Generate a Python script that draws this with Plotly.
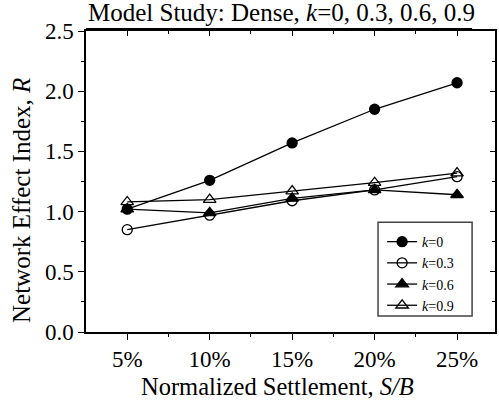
import plotly.graph_objects as go

# Normalized settlement S/B (%) and tick labels
settlement = [5, 10, 15, 20, 25]
settlement_labels = ["5%", "10%", "15%", "20%", "25%"]

# Network effect index R for each k
r_k0 = [1.02, 1.26, 1.57, 1.85, 2.07]
r_k03 = [0.85, 0.97, 1.09, 1.18, 1.29]
r_k06 = [1.02, 0.99, 1.11, 1.18, 1.14]
r_k09 = [1.08, 1.10, 1.17, 1.24, 1.32]

series_names = ["<i>k</i>=0", "<i>k</i>=0.3", "<i>k</i>=0.6", "<i>k</i>=0.9"]
series_values = [r_k0, r_k03, r_k06, r_k09]
symbols = ["circle", "circle-open", "triangle-up", "triangle-up-open"]
sizes = [10, 10, 11, 11]

FONT = "Liberation Serif"
XR = [2.5, 27.3]
YR = [0, 2.5]

fig = go.Figure()
for name, vals, sym, sz in zip(series_names, series_values, symbols, sizes):
    fig.add_trace(go.Scatter(
        x=settlement, y=vals, name=name, mode="lines+markers",
        line=dict(color="black", width=1.3),
        marker=dict(symbol=sym, size=sz, color="black",
                    line=dict(color="black", width=1.3)),
    ))

# companion axes on top/right carrying inward ticks only
fig.add_trace(go.Scatter(x=[None], y=[None], xaxis="x2", yaxis="y2",
                         showlegend=False, hoverinfo="skip"))

axis_common = dict(showgrid=False, zeroline=False, showline=True,
                   linecolor="black", linewidth=1.5,
                   tickcolor="black", tickwidth=1.3)

fig.update_layout(
    width=499, height=400,
    margin=dict(l=86, r=4, t=31, b=68),
    paper_bgcolor="white", plot_bgcolor="white",
    font=dict(family=FONT, color="black", size=23),
    showlegend=True,
    xaxis=dict(
        range=XR, tickmode="array", tickvals=settlement, ticktext=settlement_labels,
        ticks="outside", ticklen=6,
        minor=dict(tickmode="array", tickvals=[7.5, 12.5, 17.5, 22.5],
                   ticks="outside", ticklen=3, tickcolor="black", tickwidth=1.3),
        tickfont=dict(size=23, family=FONT),
        **axis_common,
    ),
    yaxis=dict(
        range=YR, tickmode="linear", tick0=0, dtick=0.5, tickformat=".1f",
        ticks="outside", ticklen=6,
        minor=dict(dtick=0.25, ticks="outside", ticklen=3,
                   tickcolor="black", tickwidth=1.3),
        tickfont=dict(size=23, family=FONT),
        **axis_common,
    ),
    xaxis2=dict(
        overlaying="x", side="top", anchor="y2", range=XR,
        tickmode="array", tickvals=settlement, showticklabels=False,
        ticks="inside", ticklen=5,
        minor=dict(tickmode="array", tickvals=[7.5, 12.5, 17.5, 22.5],
                   ticks="inside", ticklen=3, tickcolor="black", tickwidth=1.3),
        **axis_common,
    ),
    yaxis2=dict(
        overlaying="y", side="right", anchor="x2", range=YR,
        tickmode="linear", tick0=0, dtick=0.5, showticklabels=False,
        ticks="inside", ticklen=5,
        minor=dict(dtick=0.25, ticks="inside", ticklen=3,
                   tickcolor="black", tickwidth=1.3),
        **axis_common,
    ),
    legend=dict(
        x=0.724, y=0.352, xanchor="left", yanchor="top",
        bgcolor="rgba(0,0,0,0)", borderwidth=0,
        font=dict(size=14, family=FONT), itemwidth=30,
    ),
)

# legend frame
fig.add_shape(type="rect", xref="paper", yref="paper",
              x0=0.714, x1=0.944, y0=0.053, y1=0.365,
              line=dict(color="#444", width=1.5), fillcolor="white", layer="below")

# chart title with underline rule
fig.add_annotation(
    text="Model Study: Dense, <i>k</i>=0, 0.3, 0.6, 0.9",
    xref="paper", yref="paper", x=0, y=1, xanchor="left", yanchor="bottom",
    showarrow=False, font=dict(size=25, family=FONT), yshift=3,
)
fig.add_shape(type="line", xref="paper", yref="paper",
              x0=0, x1=0.944, y0=1.007, y1=1.007,
              line=dict(color="black", width=2))

# axis titles
fig.add_annotation(
    text="Normalized Settlement, <i>S/B</i>",
    xref="paper", yref="paper", x=0.469, y=-0.18, xanchor="center", yanchor="middle",
    showarrow=False, font=dict(size=24.5, family=FONT),
)
fig.add_annotation(
    text="Network Effect Index, <i>R</i>",
    xref="paper", yref="paper", x=-0.159, y=0.4385, xanchor="center", yanchor="middle",
    textangle=-90, showarrow=False, font=dict(size=25, family=FONT),
)

fig.write_html("out.html")
